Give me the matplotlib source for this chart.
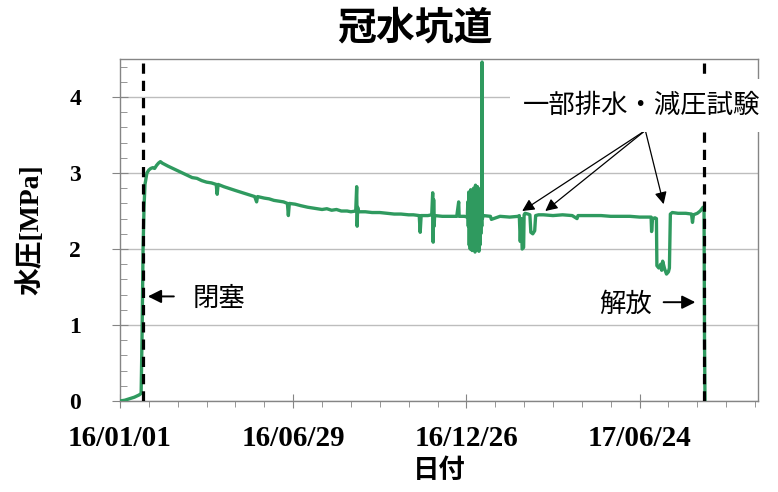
import pandas as pd
import matplotlib.pyplot as plt
import matplotlib.dates as mdates
import matplotlib.ticker as mticker

# ------------------------------------------------------------
# data: water pressure in the flooded drift
# ------------------------------------------------------------
START = pd.Timestamp("2016-01-01")

ELAPSED_DAYS = [
    0, 5, 10, 15, 20, 22, 23, 24, 25, 26, 28, 30, 32, 34, 36, 38, 40, 42, 44, 47,
    50, 55, 60, 65, 70, 75, 80, 85, 90, 95, 100, 101, 102, 108, 115, 120, 125, 130,
    135, 140, 142, 143, 150, 155, 160, 165, 170, 174, 175, 176, 182, 188, 195, 200,
    205, 210, 215, 220, 225, 230, 236, 240, 245, 246, 246.5, 247, 248, 255, 262,
    270, 278, 285, 292, 300, 305, 311, 312, 313, 320, 324, 325, 325.5, 326, 326.5,
    327, 335, 342, 350, 352, 352.5, 358, 361,
    361.5, 362, 362.5, 363, 363.5, 364, 364.5, 365, 365.5, 366, 366.5, 367, 367.5,
    368, 368.5, 369, 369.5, 370, 370.5, 371, 371.5, 372, 372.5, 373, 373.5, 374,
    374.5, 375, 375.5, 376, 376.3, 376.6, 377.5,
    385, 386, 395, 405, 414, 415, 416, 417, 418, 419.5, 420, 421, 424, 426, 427,
    429, 431, 432, 435, 440, 450, 460, 470, 475, 476, 490, 500, 510, 520, 530,
    540, 550, 552, 552.5, 553.5, 556, 557.5, 558, 560, 562, 563, 564, 566, 568,
    570, 571, 572, 574, 580, 588, 594, 595, 596, 600, 603, 606, 607, 607.5, 608,
]

PRESSURE_MPA = [
    0.00, 0.01, 0.03, 0.05, 0.08, 0.10, 0.90, 2.00, 2.55, 2.85, 3.00, 3.04, 3.06, 3.07,
    3.06, 3.10, 3.13, 3.15, 3.13, 3.11, 3.09, 3.06, 3.03, 3.00, 2.97, 2.94, 2.93,
    2.90, 2.88, 2.87, 2.85, 2.72, 2.85, 2.82, 2.79, 2.77, 2.75, 2.73, 2.71, 2.69,
    2.62, 2.69, 2.67, 2.66, 2.64, 2.63, 2.62, 2.60, 2.44, 2.60, 2.59, 2.57, 2.55,
    2.54, 2.53, 2.52, 2.53, 2.51, 2.52, 2.50, 2.50, 2.49, 2.50, 2.82, 2.30, 2.55,
    2.49, 2.49, 2.48, 2.48, 2.47, 2.46, 2.46, 2.45, 2.45, 2.44, 2.22, 2.44, 2.44,
    2.45, 2.74, 2.09, 2.65, 2.30, 2.44, 2.43, 2.43, 2.43, 2.62, 2.43, 2.43, 2.42,
    2.62, 2.30, 2.75, 2.05, 2.70, 2.00, 2.78, 2.10, 2.65, 1.98, 2.72, 2.15, 2.80,
    2.02, 2.76, 1.96, 2.84, 2.08, 2.70, 2.00, 2.82, 2.12, 2.74, 1.97, 2.79, 2.05,
    2.68, 2.20, 2.60, 2.30, 4.46, 2.40, 2.44,
    2.43, 2.39, 2.43, 2.42, 2.43, 2.44, 2.10, 2.40, 2.00, 2.02, 2.45, 2.47, 2.46,
    2.45, 2.22, 2.20, 2.24, 2.44, 2.45, 2.45, 2.44, 2.45, 2.44, 2.40, 2.44, 2.44,
    2.44, 2.43, 2.43, 2.43, 2.42, 2.42, 2.42, 2.23, 2.40, 2.41, 2.40, 1.78, 1.75,
    1.80, 1.72, 1.84, 1.74, 1.67, 1.70, 1.75, 2.46, 2.48, 2.47, 2.47, 2.46, 2.35,
    2.45, 2.47, 2.50, 2.55, 2.50, 0.80, 0.00,
]

CLOSE_DAY = 24       # 閉塞
RELEASE_DAY = 607    # 解放
MAJOR_TICK_DAYS = [0, 180, 360, 540]
MINOR_STEP_DAYS = 30
X_END_DAY = 663

GREEN = "#2f9a5f"


def day(n):
    return START + pd.Timedelta(days=n)


# ------------------------------------------------------------
# plot
# ------------------------------------------------------------
def main():
    fig = plt.figure(figsize=(7.78, 4.92), dpi=100)
    ax = fig.add_axes([0.1542, 0.185, 0.820, 0.695])

    dates = [day(n) for n in ELAPSED_DAYS]
    ax.plot(dates, PRESSURE_MPA, color=GREEN, lw=2.4, zorder=3)

    for d in (CLOSE_DAY, RELEASE_DAY):
        ax.axvline(day(d), color="black", lw=2.3, ls=(0, (3.2, 2.2)), zorder=4)

    ax.set_xlim(day(0), day(X_END_DAY))
    ax.set_ylim(0, 4.5)

    # axes styling
    ax.xaxis.set_major_locator(mticker.FixedLocator(
        [mdates.date2num(day(n)) for n in MAJOR_TICK_DAYS]))
    ax.xaxis.set_minor_locator(mticker.FixedLocator(
        [mdates.date2num(day(n)) for n in range(0, X_END_DAY + 1, MINOR_STEP_DAYS)]))
    ax.xaxis.set_major_formatter(mdates.DateFormatter("%y/%m/%d"))
    ax.yaxis.set_major_locator(mticker.MultipleLocator(1))
    ax.yaxis.set_minor_locator(mticker.MultipleLocator(0.2))

    ax.grid(axis="y", which="major", color="#bdbdbd", lw=1.0, zorder=1)
    ax.set_axisbelow(True)
    for s in ax.spines.values():
        s.set_color("#858585")
        s.set_linewidth(1.0)

    ax.tick_params(axis="y", which="major", direction="inout", length=12,
                   color="#858585", pad=22)
    ax.tick_params(axis="y", which="minor", direction="in", length=5, color="#858585")
    ax.tick_params(axis="x", which="major", direction="inout", length=10,
                   color="#858585", pad=12)
    ax.tick_params(axis="x", which="minor", direction="out", length=4.5, color="#858585")

    serif = ["Liberation Serif", "Noto Sans CJK JP"]
    for lab in ax.get_yticklabels():
        lab.set_fontfamily(serif)
        lab.set_fontweight("bold")
        lab.set_fontsize(17)
    for lab in ax.get_xticklabels():
        lab.set_fontfamily(serif)
        lab.set_fontweight("bold")
        lab.set_fontsize(21)

    ax.set_ylabel("水圧[MPa]", family=serif, fontweight="bold", fontsize=20,
                  labelpad=18)
    ax.set_xlabel("日付", family=["Noto Sans CJK JP"], fontweight="bold",
                  fontsize=19, labelpad=4)
    fig.text(0.533, 0.943, "冠水坑道", family=["Noto Sans CJK JP"],
             fontweight="bold", fontsize=28, ha="center", va="center")

    # annotations
    jp = ["Noto Sans CJK JP"]
    arrow = dict(arrowstyle="-|>", color="black", lw=1.0, mutation_scale=20,
                 shrinkA=0, shrinkB=0)

    ax.annotate("", xy=(day(29), 1.376), xytext=(day(56), 1.376),
                arrowprops=dict(arrow, lw=1.4))
    ax.text(day(76), 1.35, "閉塞", family=jp, fontsize=19, ha="left", va="center")

    ax.annotate("", xy=(day(598), 1.30), xytext=(day(565), 1.30),
                arrowprops=dict(arrow, lw=1.4))
    ax.text(day(553), 1.27, "解放", family=jp, fontsize=19, ha="right", va="center")

    ax.text(day(542), 3.89, "一部排水・減圧試験", family=jp, fontsize=19,
            ha="center", va="center", zorder=6, clip_on=False,
            bbox=dict(boxstyle="square,pad=0.5", fc="white", ec="none"))
    origin = (day(546), 3.56)
    for d, v in ((418, 2.50), (442, 2.50), (565, 2.59)):
        ax.annotate("", xy=(day(d), v), xytext=origin,
                    arrowprops=dict(arrow, lw=0.9, mutation_scale=18), zorder=5)

    fig.savefig("out.png", dpi=100)
    plt.close(fig)


if __name__ == "__main__":
    main()
